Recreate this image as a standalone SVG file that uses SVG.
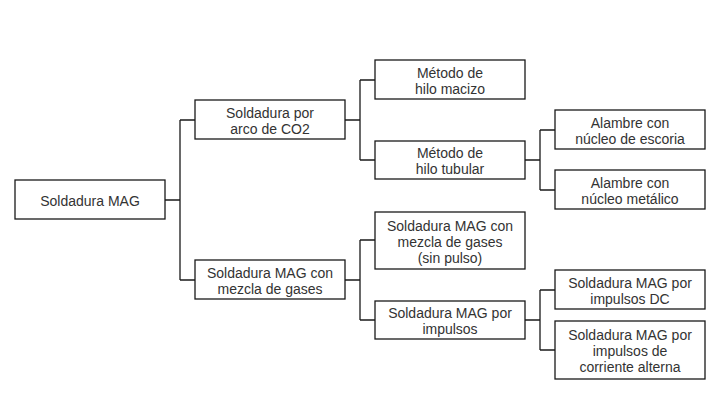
<svg xmlns="http://www.w3.org/2000/svg" width="720" height="400" viewBox="0 0 720 400">
<style>
.box{fill:#fff;stroke:#1a1a1a;stroke-width:1.3}
.lbl{font-family:"Liberation Sans","Open Sans",sans-serif;font-size:14px;fill:#333;text-anchor:middle}
.conn{fill:none;stroke:#1a1a1a;stroke-width:1.3}
</style>
<rect width="720" height="400" fill="#fff"/>
<g id="connectors" class="conn">
<path d="M165,200H180M180,120V280M180,120H195M180,280H195"/>
<path d="M345,120H360M360,80V160M360,80H375M360,160H375"/>
<path d="M525,160H540M540,130V190M540,130H555M540,190H555"/>
<path d="M345,280H360M360,240V320M360,240H375M360,320H375"/>
<path d="M525,320H540M540,290V350M540,290H555M540,350H555"/>
</g>
<g id="n-root"><rect class="box" x="15" y="180" width="150" height="39"/><text class="lbl" x="90" y="206">Soldadura MAG</text></g>
<g id="n-co2"><rect class="box" x="195" y="100" width="150" height="39"/><text class="lbl" x="270" y="117.5">Soldadura por<tspan x="270" dy="16">arco de CO2</tspan></text></g>
<g id="n-gases"><rect class="box" x="195" y="260" width="150" height="39"/><text class="lbl" x="270" y="277.5">Soldadura MAG con<tspan x="270" dy="16">mezcla de gases</tspan></text></g>
<g id="n-macizo"><rect class="box" x="375" y="60" width="150" height="39"/><text class="lbl" x="450" y="77.5">Método de<tspan x="450" dy="16">hilo macizo</tspan></text></g>
<g id="n-tubular"><rect class="box" x="375" y="141" width="150" height="38"/><text class="lbl" x="450" y="158">Método de<tspan x="450" dy="16">hilo tubular</tspan></text></g>
<g id="n-sinpulso"><rect class="box" x="375" y="212" width="150" height="57"/><text class="lbl" x="450" y="230.5">Soldadura MAG con<tspan x="450" dy="16">mezcla de gases</tspan><tspan x="450" dy="16">(sin pulso)</tspan></text></g>
<g id="n-impulsos"><rect class="box" x="375" y="301" width="150" height="38"/><text class="lbl" x="450" y="318">Soldadura MAG por<tspan x="450" dy="16">impulsos</tspan></text></g>
<g id="n-escoria"><rect class="box" x="555" y="110" width="150" height="39"/><text class="lbl" x="630" y="127.5">Alambre con<tspan x="630" dy="16">núcleo de escoria</tspan></text></g>
<g id="n-metalico"><rect class="box" x="555" y="170" width="150" height="39"/><text class="lbl" x="630" y="187.5">Alambre con<tspan x="630" dy="16">núcleo metálico</tspan></text></g>
<g id="n-dc"><rect class="box" x="555" y="270" width="150" height="39"/><text class="lbl" x="630" y="287.5">Soldadura MAG por<tspan x="630" dy="16">impulsos DC</tspan></text></g>
<g id="n-alterna"><rect class="box" x="555" y="321" width="150" height="58"/><text class="lbl" x="630" y="340">Soldadura MAG por<tspan x="630" dy="16">impulsos de</tspan><tspan x="630" dy="16">corriente alterna</tspan></text></g>
</svg>
